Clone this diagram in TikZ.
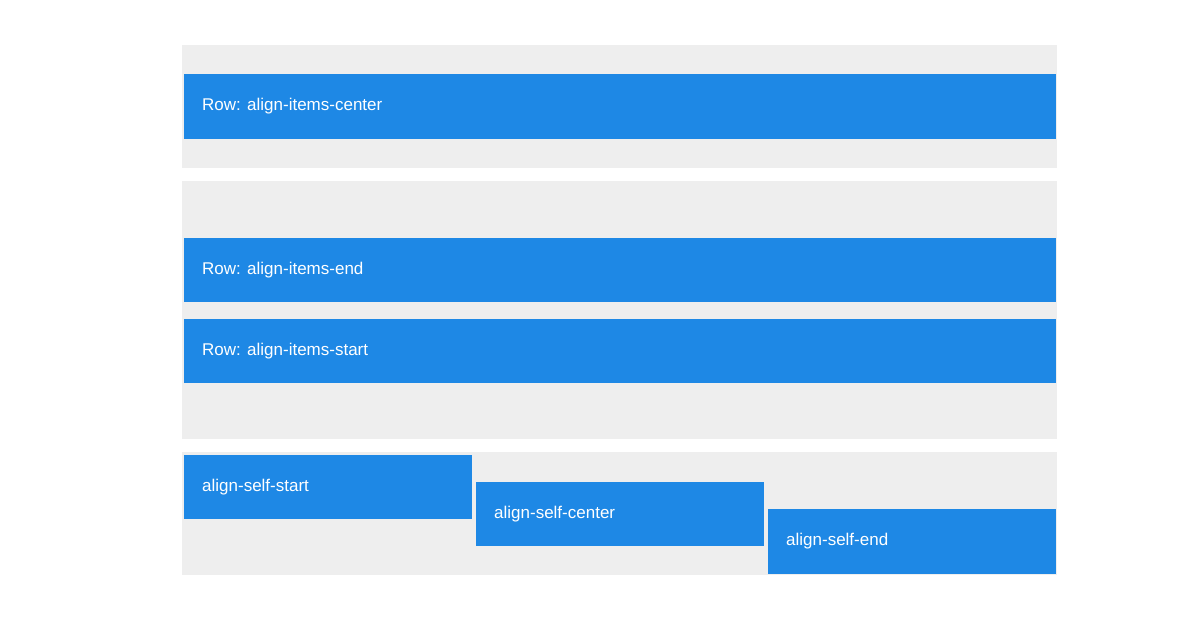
\documentclass[tikz,border=0pt]{standalone}
\usepackage{fontspec}
\setmainfont{Liberation Sans}
\definecolor{bg}{HTML}{EEEEEE}
\definecolor{bl}{HTML}{1E88E5}
\begin{document}
\begin{tikzpicture}[x=1pt,y=-1pt,
  box/.style={fill=bg,draw=none},
  bar/.style={fill=bl,draw=none},
  lbl/.style={text=white,anchor=west,inner sep=0pt,font=\fontsize{17}{20}\selectfont}]
\useasboundingbox (0,0) rectangle (1197,628);
\fill[box] (182,45) rectangle (1057,168);
\fill[box] (182,181) rectangle (1057,439);
\fill[box] (182,452) rectangle (1057,575);
\fill[bar] (184,74) rectangle (1056,139);
\node[lbl] (a) at (202,106.5) {Row: align-items-center};
\fill[bar] (184,238) rectangle (1056,302);
\node[lbl] (b) at (202,270) {Row: align-items-end};
\fill[bar] (184,319) rectangle (1056,383);
\node[lbl] (c) at (202,351) {Row: align-items-start};
\fill[bar] (184,455) rectangle (472,519);
\node[lbl] (d) at (202,487) {align-self-start};
\fill[bar] (476,482) rectangle (764,546);
\node[lbl] (e) at (494,514) {align-self-center};
\fill[bar] (768,509) rectangle (1056,574);
\node[lbl] (f) at (786,541.5) {align-self-end};
\end{tikzpicture}
\end{document}
